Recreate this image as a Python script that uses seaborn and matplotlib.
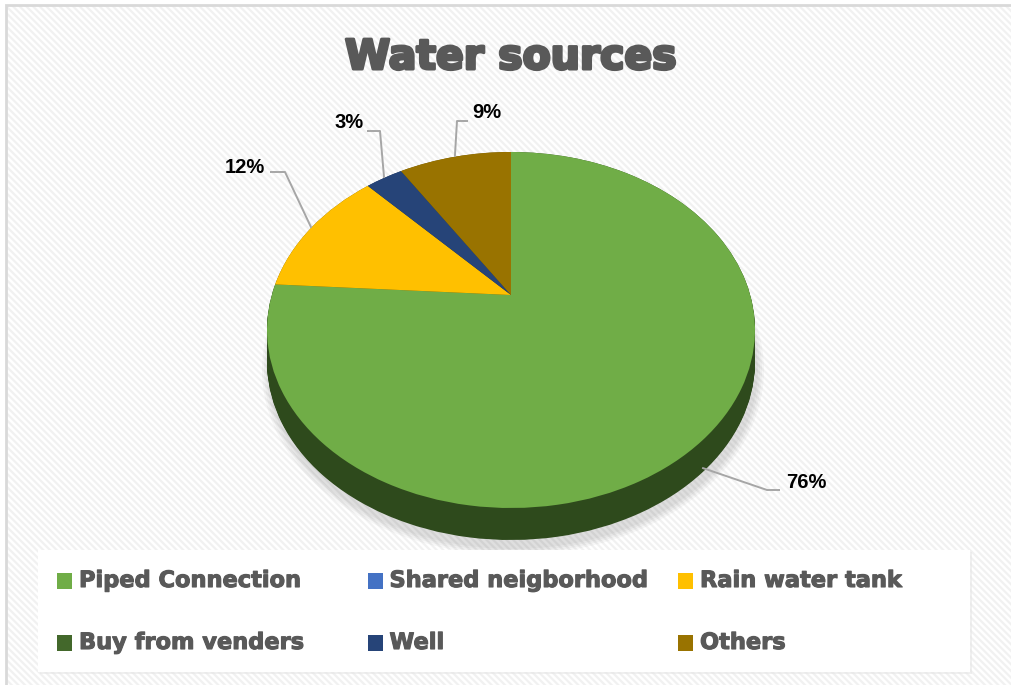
"""
Water sources - 3D style pie chart
"""
import numpy as np
import matplotlib
matplotlib.use("Agg")
import matplotlib.pyplot as plt
import matplotlib.patheffects as pe
from matplotlib.patches import Rectangle, Ellipse
from matplotlib.path import Path
from matplotlib.transforms import Transform
import seaborn as sns

# Data
sources = ["Piped Connection", "Shared neigborhood", "Rain water tank",
           "Buy from venders", "Well", "Others"]
shares = [76, 0, 12, 0, 3, 9]
pct_labels = ["76%", "", "12%", "", "3%", "9%"]
top_colors = ["#70ad47", "#4472c4", "#ffc000", "#43682b", "#264478", "#997300"]
side_colors = ["#2e4a1c", "#203864", "#7f6000", "#2d451d", "#1a2f52", "#664d00"]

# label text positions and leader elbows (pixels, rows from top)
label_pos = [(806, 483), None, (245, 167), None, (349, 122), (487, 112)]
leader_elbow = [[(767, 490), (780, 490)], None, [(285, 172), (270, 172)], None,
                [(380, 131), (367, 131)], [(457, 121), (468, 121)]]

W, H = 1011, 685
GREY = "#595959"

# perspective of the tilted disc (pixel units, y up)
CX, CZ = 511, H - 295
A, B, C = 239.2, 247.8, 0.1966
DEPTH = 32

sns.set_style("white")
plt.rcParams["font.family"] = ["DejaVu Sans"]
plt.rcParams["hatch.linewidth"] = 1.6
plt.rcParams["hatch.color"] = "#f1f1f1"


def Y(row):
    """pixel row (from top) -> data y"""
    return H - row


def project(u, v, drop=0.0):
    den = 1 + C * v
    return CX + A * u / den, (B * v + CZ) / den - drop


class Tilt(Transform):
    """unit-circle pie -> perspective ellipse in pixel coords"""
    input_dims = output_dims = 2
    is_separable = False
    has_inverse = False

    def __init__(self, drop=0.0):
        super().__init__()
        self.drop = drop

    def transform_non_affine(self, xy):
        xy = np.asarray(xy, dtype=float)
        x, y = project(xy[:, 0], xy[:, 1], self.drop)
        return np.column_stack([x, y])

    def transform_path_non_affine(self, path):
        return Path(self.transform_non_affine(path.vertices), path.codes)


def draw_pie(ax, colors, drop, z):
    wedges, _ = ax.pie(shares, colors=colors, startangle=90, counterclock=False,
                       radius=1, center=(0, 0),
                       wedgeprops=dict(linewidth=0, zorder=z))
    for w in wedges:
        w.set_transform(Tilt(drop) + ax.transData)
    return wedges


def main():
    fig = plt.figure(figsize=(W / 100, H / 100), dpi=100)
    ax = fig.add_axes([0, 0, 1, 1])

    # background with faint diagonal stripes
    ax.add_patch(Rectangle((6, 0), W, Y(5), facecolor="white", edgecolor="#f1f1f1",
                           hatch="\\\\\\\\\\", lw=0, zorder=0))
    ax.add_patch(Rectangle((6, -5), W + 10, Y(5) + 5, facecolor="none",
                           edgecolor="#d9d9d9", lw=2, zorder=0.2))

    # soft shadow under the pie
    for i in range(4):
        ax.add_patch(Ellipse((CX + 2, H - 336 - DEPTH - 2), 490 + 4 * i, 358 + 4 * i,
                             facecolor="black", alpha=0.03, lw=0, zorder=0.5))

    # side of the pie: stacked darker copies
    for d in np.linspace(DEPTH, 0, 34):
        draw_pie(ax, side_colors, d, 2)

    # top face
    draw_pie(ax, top_colors, 0, 3)

    # percentage labels with leader lines
    total = sum(shares)
    before = np.cumsum([0] + shares[:-1])
    for i, val in enumerate(shares):
        if label_pos[i] is None:
            continue
        mid = np.deg2rad(90 - 360 * (before[i] + val / 2) / total)
        drop = DEPTH * 0.85 if np.sin(mid) < 0 else 0
        axx, axy = project(np.cos(mid), np.sin(mid), drop)
        (e1x, e1y), (e2x, e2y) = leader_elbow[i]
        ax.plot([axx, e1x, e2x], [axy, Y(e1y), Y(e2y)], color="#a6a6a6",
                lw=1.4, zorder=4, solid_capstyle="butt")
        tx, ty = label_pos[i]
        ax.text(tx, Y(ty), pct_labels[i], ha="center", va="center",
                fontsize=14.5, fontweight="bold",
                family=["Liberation Sans", "DejaVu Sans"],
                color="black", zorder=5)

    # title
    ax.text(511, Y(58), "Water sources", ha="center", va="center",
            fontsize=29.5, fontweight="bold", color=GREY, zorder=5,
            path_effects=[pe.withStroke(linewidth=2.2, foreground=GREY)])

    # legend box
    ax.add_patch(Rectangle((40, Y(674)), 932, 122, facecolor="#e6e6e6",
                           lw=0, alpha=0.6, zorder=1))
    ax.add_patch(Rectangle((38, Y(672)), 932, 122, facecolor="white",
                           lw=0, zorder=1.1))
    for i, name in enumerate(sources):
        row, col = divmod(i, 3)
        mx = 57 + col * 310.5
        my = 581 + row * 62
        ax.add_patch(Rectangle((mx, Y(my + 8)), 15, 16,
                               facecolor=top_colors[i], lw=0, zorder=2))
        ax.text(mx + 22, Y(my), name, ha="left", va="center",
                fontsize=16.2, fontweight="bold", color=GREY, zorder=2,
                path_effects=[pe.withStroke(linewidth=0.8, foreground=GREY)])

    ax.set_xlim(0, W)
    ax.set_ylim(0, H)
    ax.set_aspect("auto")
    ax.axis("off")

    fig.savefig("out.png", dpi=100, facecolor="white")
    plt.close(fig)


if __name__ == "__main__":
    main()
